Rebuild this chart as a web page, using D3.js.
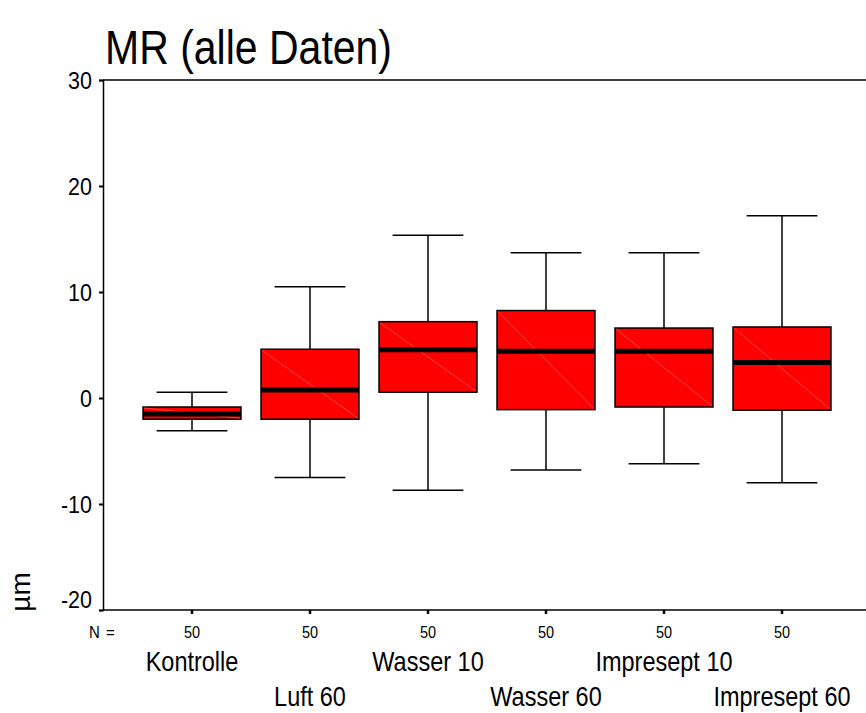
<!DOCTYPE html>
<html>
<head>
<meta charset="utf-8">
<script src="https://cdn.jsdelivr.net/npm/d3@7"></script>
<style>
  html, body { margin: 0; padding: 0; background: #fff; }
  svg { display: block; font-family: "Liberation Sans", Arial, sans-serif; }
</style>
</head>
<body>
<svg id="chart" width="866" height="713"></svg>
<script>
// Group names (two label rows alternate below the axis)
const categories = ["Kontrolle", "Luft 60", "Wasser 10", "Wasser 60", "Impresept 10", "Impresept 60"];
// Five-number summaries per group, in µm
const whiskerLow  = [-3.1, -7.5, -8.7, -6.8, -6.2, -8.0];
const q1          = [-2.0, -2.0,  0.55, -1.1, -0.85, -1.15];
const medians     = [-1.5,  0.75, 4.55, 4.4,  4.4,  3.35];
const q3          = [-0.85, 4.6,  7.2,  8.25, 6.6,  6.7];
const whiskerHigh = [ 0.55, 10.5, 15.35, 13.7, 13.7, 17.2];
const counts      = [50, 50, 50, 50, 50, 50];
const yTicks      = [-20, -10, 0, 10, 20, 30];

const svg = d3.select("#chart");
const plotLeft = 103, plotTop = 80, plotBottom = 610, plotRight = 871;
const tall = 1.15; // glyphs are drawn slightly taller than wide

const x = d3.scaleBand().domain(categories).range([plotLeft + 30, plotRight - 30]).paddingInner(0).paddingOuter(0);
const y = d3.scaleLinear().domain([-20, 30]).range([plotBottom, plotTop]);

const step = x.step();
const boxW = step * 0.83;
const capW = step * 0.6;

// Places a text at (px, py) with the vertical stretch applied
function placeText(sel, px, py) {
  return sel.attr("transform", (d, i) => {
    const X = typeof px === "function" ? px(d, i) : px;
    const Y = typeof py === "function" ? py(d, i) : py;
    return `translate(${X},${Y}) scale(1,${tall})`;
  });
}

// Title
placeText(svg.append("text"), 105, 64)
  .attr("font-size", 41)
  .attr("fill", "#000")
  .text("MR (alle Daten)");

// Frame: top and right edges
svg.append("line").attr("x1", plotLeft).attr("x2", plotRight).attr("y1", plotTop).attr("y2", plotTop)
  .attr("stroke", "#000").attr("stroke-width", 1.5);
svg.append("line").attr("x1", plotRight).attr("x2", plotRight).attr("y1", plotTop).attr("y2", plotBottom)
  .attr("stroke", "#000").attr("stroke-width", 1.5);

// Y axis
const yAxis = d3.axisLeft(y).tickValues(yTicks).tickSize(4).tickPadding(7).tickFormat(d => String(d));
const gy = svg.append("g").attr("transform", `translate(${plotLeft},0)`).call(yAxis);
gy.select(".domain").attr("stroke", "#000").attr("stroke-width", 1.5);
gy.selectAll(".tick line").attr("stroke", "#000").attr("stroke-width", 2);
gy.selectAll(".tick text").attr("font-size", 21.5).attr("fill", "#000")
  .attr("font-family", "Liberation Sans, Arial, sans-serif")
  .attr("transform", `scale(1,${tall})`)
  .attr("dy", d => d === -20 ? "-0.12em" : "0.36em");

// X axis (ticks at group centres, labels drawn separately)
const xAxis = d3.axisBottom(x).tickSize(4).tickFormat("");
const gx = svg.append("g").attr("transform", `translate(0,${plotBottom})`).call(xAxis);
gx.select(".domain").remove();
gx.selectAll(".tick line").attr("stroke", "#000").attr("stroke-width", 2.5);
svg.append("line").attr("x1", plotLeft).attr("x2", plotRight).attr("y1", plotBottom).attr("y2", plotBottom)
  .attr("stroke", "#000").attr("stroke-width", 1.5);

// Counts row
placeText(svg.append("text"), 102, 638)
  .attr("text-anchor", "middle")
  .attr("font-size", 15)
  .attr("word-spacing", 2)
  .text("N =");
placeText(svg.append("g").selectAll("text").data(categories).join("text"),
    d => x(d) + step / 2, 638)
  .attr("text-anchor", "middle")
  .attr("font-size", 14.5)
  .text((d, i) => counts[i]);

// Category labels, staggered in two rows
placeText(svg.append("g").selectAll("text").data(categories).join("text"),
    d => x(d) + step / 2, (d, i) => i % 2 === 0 ? 671 : 706)
  .attr("text-anchor", "middle")
  .attr("font-size", 23.5)
  .text(d => d);

// Y axis title
svg.append("text")
  .attr("transform", "translate(30,592) rotate(-90)")
  .attr("text-anchor", "middle")
  .attr("font-size", 28)
  .text("µm");

// Boxes
const data = categories.map((c, i) => ({
  c, lo: whiskerLow[i], q1: q1[i], med: medians[i], q3: q3[i], hi: whiskerHigh[i]
}));
const g = svg.append("g").selectAll("g").data(data).join("g")
  .attr("transform", d => `translate(${x(d.c) + step / 2},0)`);

// Whisker stems
g.append("line").attr("x1", 0).attr("x2", 0)
  .attr("y1", d => y(d.hi)).attr("y2", d => y(d.q3))
  .attr("stroke", "#000").attr("stroke-width", 1.5);
g.append("line").attr("x1", 0).attr("x2", 0)
  .attr("y1", d => y(d.q1)).attr("y2", d => y(d.lo))
  .attr("stroke", "#000").attr("stroke-width", 1.5);
// Whisker caps
g.append("line").attr("x1", -capW / 2).attr("x2", capW / 2)
  .attr("y1", d => y(d.hi)).attr("y2", d => y(d.hi))
  .attr("stroke", "#000").attr("stroke-width", 1.5);
g.append("line").attr("x1", -capW / 2).attr("x2", capW / 2)
  .attr("y1", d => y(d.lo)).attr("y2", d => y(d.lo))
  .attr("stroke", "#000").attr("stroke-width", 1.5);

// Box body
g.append("rect")
  .attr("x", -boxW / 2).attr("width", boxW)
  .attr("y", d => y(d.q3)).attr("height", d => y(d.q1) - y(d.q3))
  .attr("fill", "#ff0000").attr("stroke", "#000").attr("stroke-width", 1.5);
// Faint diagonal seam across the fill
g.append("line")
  .attr("x1", -boxW / 2 + 1).attr("x2", boxW / 2 - 1)
  .attr("y1", d => y(d.q3) + 1).attr("y2", d => y(d.q1) - 1)
  .attr("stroke", "#ff6a6a").attr("stroke-width", 0.6);
// Median
g.append("line").attr("x1", -boxW / 2).attr("x2", boxW / 2)
  .attr("y1", d => y(d.med)).attr("y2", d => y(d.med))
  .attr("stroke", "#000").attr("stroke-width", 5);
</script>
</body>
</html>
